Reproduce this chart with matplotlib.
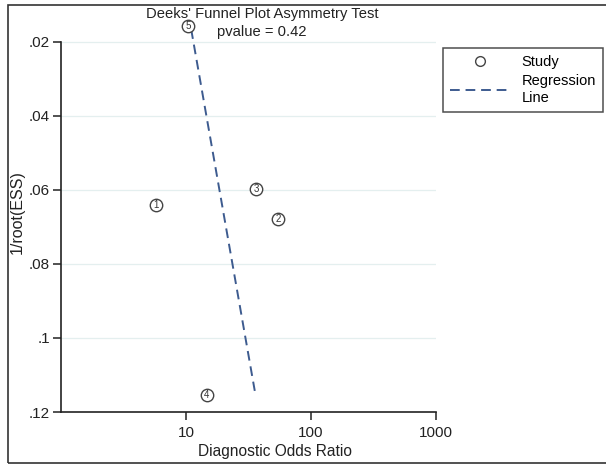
import matplotlib
matplotlib.use('Agg')
import matplotlib.pyplot as plt
from matplotlib.patches import Rectangle
from matplotlib.lines import Line2D

plt.rcParams['font.family'] = ['Liberation Sans', 'DejaVu Sans']

# study points (diagnostic odds ratio, 1/root(ESS))
study_ids = ['1', '2', '3', '4', '5']
study_dor = [5.8, 54.5, 36.3, 14.7, 10.4]
study_ess = [0.0641, 0.0678, 0.0597, 0.1154, 0.0157]

# regression line end points
reg_dor = [11.0, 35.5]
reg_ess = [0.0166, 0.1143]

yticks = [0.02, 0.04, 0.06, 0.08, 0.10, 0.12]
ytick_labels = ['.02', '.04', '.06', '.08', '.1', '.12']
xticks = [10, 100, 1000]
xtick_labels = ['10', '100', '1000']

fig = plt.figure(figsize=(6.06, 4.65), dpi=100)
fig.patch.set_facecolor('white')

# outer frame
fig.patches.append(Rectangle((8 / 606, 2 / 465), 1.0, 458 / 465, transform=fig.transFigure,
                             fill=False, edgecolor='#333333', linewidth=1.2, clip_on=False))

ax = fig.add_axes([61 / 606, 1 - 412 / 465, 375 / 606, (412 - 13) / 465])
ax.set_xscale('log')
ax.set_xlim(1, 1000)
ax.set_ylim(0.12, 0.0122)

for y in yticks[:-1]:
    ax.axhline(y, color='#e4efef', linewidth=0.9, zorder=0)

ax.plot(reg_dor, reg_ess, color='#3d5b8f', linewidth=1.4, linestyle=(0, (5, 3)), zorder=2)

ax.scatter(study_dor, study_ess, s=80, facecolor='white', edgecolor='#444444', linewidth=1.0, zorder=3)
for sid, xv, yv in zip(study_ids, study_dor, study_ess):
    ax.text(xv, yv, sid, fontsize=7, ha='center', va='center', color='#333333', zorder=4)

for s in ['top', 'right']:
    ax.spines[s].set_visible(False)
ax.spines['left'].set_bounds(0.02, 0.12)
for s in ['left', 'bottom']:
    ax.spines[s].set_linewidth(1.2)
    ax.spines[s].set_color('#222222')

ax.set_yticks(yticks)
ax.set_yticklabels(ytick_labels)
ax.set_xticks(xticks)
ax.set_xticklabels(xtick_labels)
ax.minorticks_off()
ax.tick_params(axis='both', labelsize=11, length=6, width=1.1, color='#222222', labelcolor='#222222')
ax.tick_params(axis='x', pad=4)
ax.tick_params(axis='y', pad=2)

ax.set_ylabel('1/root(ESS)', fontsize=11.5, color='#222222', labelpad=3)

fig.text(275 / 606, 1 - 451 / 465, 'Diagnostic Odds Ratio', ha='center', va='center',
         fontsize=11.2, color='#222222')
fig.text(262 / 606, 1 - 14 / 465, "Deeks' Funnel Plot Asymmetry Test", ha='center', va='center',
         fontsize=10.6, color='#222222')
fig.text(262 / 606, 1 - 32 / 465, 'pvalue = 0.42', ha='center', va='center',
         fontsize=10.6, color='#222222')

handles = [
    Line2D([], [], marker='o', linestyle='none', markersize=7, markerfacecolor='white',
           markeredgecolor='#444444', markeredgewidth=1.0),
    Line2D([], [], color='#3d5b8f', linewidth=1.4, linestyle=(0, (5, 3))),
]
leg = fig.legend(handles, ['Study', 'Regression\nLine'], loc='upper left',
                 bbox_to_anchor=(443 / 606, 1 - 48 / 465), fontsize=10.5,
                 frameon=True, fancybox=False, handlelength=4.1, borderpad=0.5,
                 labelspacing=0.35, handletextpad=0.8, borderaxespad=0)
leg.get_frame().set_edgecolor('#222222')
leg.get_frame().set_linewidth(1.1)

fig.savefig('out.png', dpi=100, facecolor='white')
